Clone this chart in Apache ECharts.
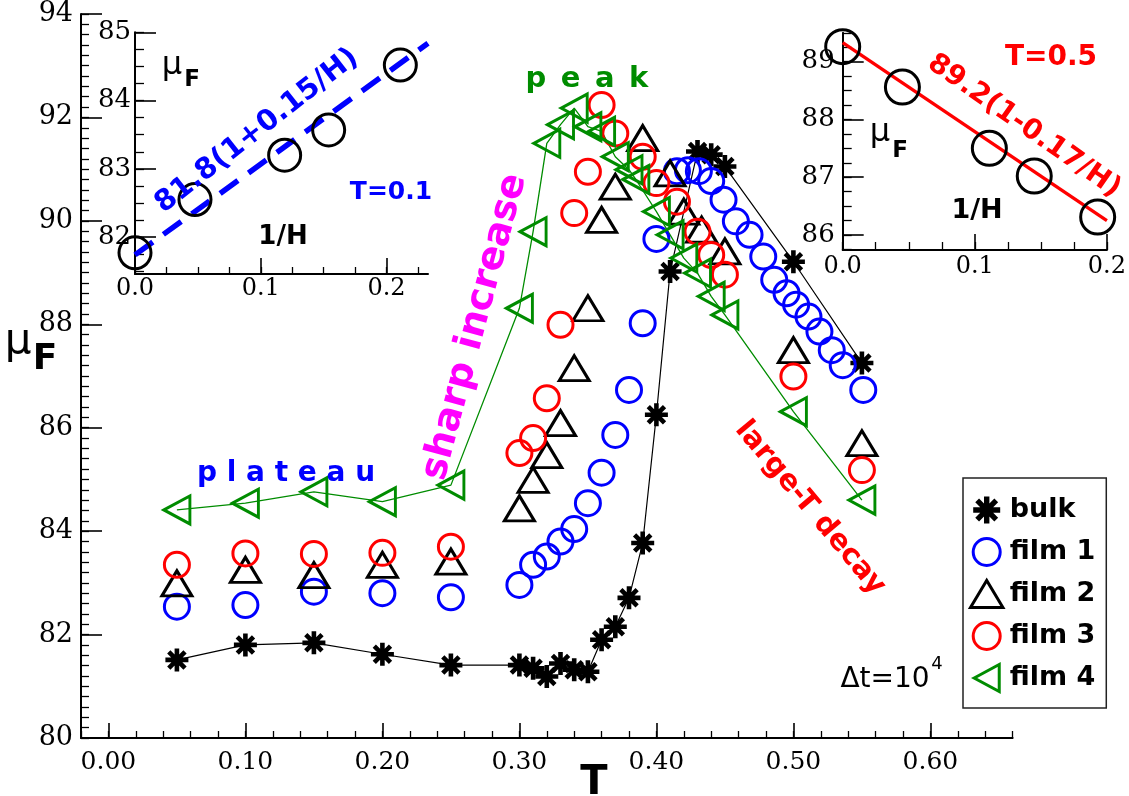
<!DOCTYPE html>
<html><head><meta charset="utf-8">
<script src="https://cdn.jsdelivr.net/npm/echarts@6/dist/echarts.min.js"></script>
<style>html,body{margin:0;padding:0;background:#fff}#c{width:1129px;height:796px}</style>
</head><body><div id="c"></div>
<script>
// ---------------- data ----------------
const bulkT  = [0.05,0.10,0.15,0.20,0.25,0.30,0.31,0.32,0.33,0.34,0.35,0.36,0.37,0.38,0.39,0.40,0.41,0.43,0.44,0.45,0.50,0.55];
const bulkMu = [81.51,81.80,81.84,81.62,81.41,81.41,81.35,81.19,81.44,81.32,81.28,81.90,82.15,82.71,83.77,86.25,89.02,91.34,91.28,91.05,89.21,87.25];

const film1T  = [0.05,0.10,0.15,0.20,0.25,0.30,0.31,0.32,0.33,0.34,0.35,0.36,0.37,0.38,0.39,0.40,0.415,0.423,0.431,0.44,0.449,0.458,0.468,0.478,0.486,0.495,0.502,0.511,0.519,0.528,0.536,0.551];
const film1Mu = [82.54,82.57,82.83,82.80,82.72,82.96,83.35,83.51,83.80,84.04,84.54,85.13,85.86,86.73,88.02,89.65,90.96,90.98,90.96,90.77,90.41,89.99,89.73,89.31,88.86,88.60,88.38,88.15,87.86,87.50,87.21,86.73];

const film2T  = [0.05,0.10,0.15,0.20,0.25,0.30,0.31,0.32,0.33,0.34,0.35,0.36,0.37,0.39,0.41,0.42,0.433,0.45,0.50,0.55];
const film2Mu = [82.99,83.25,83.15,83.35,83.41,84.44,84.99,85.47,86.09,87.15,88.31,90.02,90.66,91.60,90.92,90.18,89.83,89.41,87.50,85.70];

const film3T  = [0.05,0.10,0.15,0.20,0.25,0.30,0.31,0.32,0.33,0.34,0.35,0.36,0.37,0.39,0.40,0.415,0.43,0.44,0.45,0.50,0.55];
const film3Mu = [83.35,83.57,83.56,83.58,83.70,85.51,85.80,86.57,87.99,90.15,90.95,92.24,91.69,91.24,90.73,90.37,89.79,89.34,88.96,86.99,85.18];

const film4T  = [0.05,0.10,0.15,0.20,0.25,0.30,0.31,0.32,0.33,0.34,0.35,0.36,0.37,0.38,0.385,0.40,0.41,0.42,0.43,0.44,0.45,0.50,0.55];
const film4Mu = [84.41,84.54,84.76,84.57,84.89,88.31,89.79,91.50,91.86,92.18,91.82,91.73,91.24,90.99,90.80,90.18,89.73,89.28,88.99,88.54,88.18,86.31,84.60];

// inset T=0.1 (left) and T=0.5 (right)
const insetLInvH = [0.0,0.0477,0.119,0.154,0.211];
const insetLMu   = [81.77,82.55,83.20,83.57,84.52];
const fitLInvH   = [0.0,0.233];
const fitLMu     = [81.74,84.84];
const insetRInvH = [0.0,0.0452,0.111,0.145,0.193];
const insetRMu   = [89.26,88.56,87.50,87.02,86.31];
const fitRInvH   = [0.0,0.2];
const fitRMu     = [89.33,86.25];

// tick labels
const mainXTicks  = [0.0,0.1,0.2,0.3,0.4,0.5,0.6];
const mainYTicks  = [80,82,84,86,88,90,92,94];
const insetLXTicks = [0.0,0.1,0.2];
const insetLYTicks = [82,83,84,85];
const insetRXTicks = [0.0,0.1,0.2];
const insetRYTicks = [86,87,88,89];

// ---------------- helpers ----------------
const zip = (a,b) => a.map((v,i)=>[v,b[i]]);
function steps(min,max,step){const out=[];let k=Math.ceil(min/step-1e-9);for(;k*step<=max+1e-9;k++)out.push(+(k*step).toFixed(6));return out;}
const SERIF='"DejaVu Serif"', SANS='"DejaVu Sans"';

function axisPair(dim, gridIndex, min, max, majors, minorStep, majLen, minLen, fmt, fontSize, margin){
  const pos = dim==='x' ? 'bottom' : 'left';
  const major = {type:'value', gridIndex, min, max, position:pos,
    axisLine:{show:true,onZero:false,lineStyle:{color:'#000',width:2}},
    axisTick:{show:true,inside:true,length:majLen,customValues:majors,lineStyle:{color:'#000',width:1.6}},
    axisLabel:{show:true,customValues:majors,formatter:fmt,color:'#000',fontFamily:SERIF,fontSize:fontSize,margin:margin},
    splitLine:{show:false}};
  const minor = {type:'value', gridIndex, min, max, position:pos,
    axisLine:{show:false,onZero:false},
    axisTick:{show:true,inside:true,length:minLen,customValues:steps(min,max,minorStep),lineStyle:{color:'#000',width:1.3}},
    axisLabel:{show:false}, splitLine:{show:false}};
  return [major, minor];
}

const starPath = 'path://M40,0L60,0L60,100L40,100Z M0,40L100,40L100,60L0,60Z M21.7,7.6L92.4,78.3L78.3,92.4L7.6,21.7Z M92.4,21.7L21.7,92.4L7.6,78.3L78.3,7.6Z';
const upTri   = 'path://M0,25L15,0L30,25Z';
const leftTri = 'path://M0,14L26,0L26,28Z';
const NONE = 'rgba(0,0,0,0)';
const BLUE='#0000ff', RED='#ff0000', GREEN='#008c00', MAG='#ff00ff';

// ---------------- axes ----------------
const xAxes = [], yAxes = [];
// main grid 0
xAxes.push(...axisPair('x',0,-0.02,0.66,mainXTicks,0.02,15,7,v=>v.toFixed(2),25,12));
yAxes.push(...axisPair('y',0,80,94,mainYTicks,0.2,21,8,v=>String(v),27,8));
// left inset grid 1
xAxes.push(...axisPair('x',1,0,0.233,insetLXTicks,0.025,16,7,v=>v.toFixed(1),24,3));
yAxes.push(...axisPair('y',1,81.46,85,insetLYTicks,0.25,21,9,v=>String(v),26,4));
// right inset grid 2
xAxes.push(...axisPair('x',2,0,0.2,insetRXTicks,0.025,16,8,v=>v.toFixed(1),24,5));
yAxes.push(...axisPair('y',2,85.74,89.5,insetRYTicks,0.25,21,9,v=>String(v),26,8));

function sc(name,t,m,symbol,size,style,z){
  return {name,type:'scatter',xAxisIndex:0,yAxisIndex:0,data:zip(t,m),symbol,symbolSize:size,
    itemStyle:style,silent:true,z:z||2,emphasis:{disabled:true}};
}
function ln(t,m,color,w,xi,yi,type){
  return {type:'line',xAxisIndex:xi||0,yAxisIndex:yi||0,data:zip(t,m),showSymbol:false,symbol:'none',
    lineStyle:{color,width:w,type:type||'solid',opacity:1},silent:true,z:1,emphasis:{disabled:true}};
}
const hollow = (c,w)=>({color:NONE,borderColor:c,borderWidth:w,opacity:1});

const series = [
  ln(bulkT,bulkMu,'#000',1.2),
  ln(film4T,film4Mu,GREEN,1.3),
  sc('bulk',bulkT,bulkMu,starPath,23,{color:'#000',opacity:1},3),
  sc('film 1',film1T,film1Mu,'circle',25,hollow(BLUE,3),3),
  sc('film 2',film2T,film2Mu,upTri,[30,25],hollow('#000',3),3),
  sc('film 3',film3T,film3Mu,'circle',25,hollow(RED,3),3),
  sc('film 4',film4T,film4Mu,leftTri,[26,28],hollow(GREEN,3),4),
  // insets
  ln(fitLInvH,fitLMu,BLUE,5.5,2,2,[22,13]),
  {type:'scatter',xAxisIndex:2,yAxisIndex:2,data:zip(insetLInvH,insetLMu),symbol:'circle',symbolSize:32,
    itemStyle:hollow('#000',3),silent:true,z:3},
  ln(fitRInvH,fitRMu,RED,3.3,4,4),
  {type:'scatter',xAxisIndex:4,yAxisIndex:4,data:zip(insetRInvH,insetRMu),symbol:'circle',symbolSize:34,
    itemStyle:hollow('#000',3),silent:true,z:3}
];

function txt(text,x,y,font,fill,rot){
  return {type:'text',x,y,rotation:rot||0,z:100,silent:true,
    style:{text,fill,font,align:'center',verticalAlign:'middle',textAlign:'center',textVerticalAlign:'middle'}};
}
const B = s=>'bold '+s+'px '+SANS, N = s=>s+'px '+SANS;
const deg = d=>d*Math.PI/180;

const option = {
  animation:false,
  backgroundColor:'#fff',
  grid:[
    {left:81,top:14,width:931.6,height:724,containLabel:false},
    {left:135,top:32.3,width:293,height:241.7,containLabel:false},
    {left:842.7,top:32.8,width:268,height:217.2,containLabel:false}
  ],
  xAxis:xAxes, yAxis:yAxes,
  legend:{orient:'vertical',left:963,top:478,padding:[17,11,15,6],itemWidth:36,itemHeight:27,itemGap:12,
    borderColor:'#222',borderWidth:1.5,selectedMode:false,backgroundColor:'#fff',
    textStyle:{fontFamily:SANS,fontWeight:'bold',fontSize:27,color:'#000',lineHeight:30},
    data:[
      {name:'bulk',icon:starPath,itemStyle:{color:'#000',borderWidth:0,opacity:1}},
      {name:'film 1',icon:'circle',itemStyle:hollow(BLUE,3)},
      {name:'film 2',icon:upTri,itemStyle:hollow('#000',3)},
      {name:'film 3',icon:'circle',itemStyle:hollow(RED,3)},
      {name:'film 4',icon:leftTri,itemStyle:hollow(GREEN,3)}
    ]},
  series,
  graphic:[
    txt('μ',18,342,N(42),'#000'),
    txt('F',45,360,B(36),'#000'),
    txt('T',594,784,B(40),'#000'),
    txt('p\u2002e\u2002a\u2002k',587,79,B(29),GREEN),
    txt('p l a t e a u',286,474,B(28),BLUE),
    txt('sharp increase',475,327,B(38),MAG,deg(75)),
    txt('large-T decay',810,508,B(29),RED,deg(-50)),
    txt('81.8(1+0.15/H)',257,131,B(29),BLUE,deg(38)),
    txt('T=0.1',391,192,B(25),BLUE),
    txt('1/H',283,237,B(26),'#000'),
    txt('μ',172,66,N(32),'#000'),
    txt('F',192,80,B(23),'#000'),
    txt('T=0.5',1051,58,B(28),RED),
    txt('89.2(1-0.17/H)',1024,126,B(28),RED,deg(-35)),
    txt('1/H',977,211,B(27),'#000'),
    txt('μ',880,133,N(32),'#000'),
    txt('F',900,151,B(23),'#000'),
    txt('Δt=10',885,680,N(28),'#000'),
    txt('4',937,664,N(18),'#000')
  ]
};
echarts.init(document.getElementById('c')).setOption(option);
</script></body></html>
